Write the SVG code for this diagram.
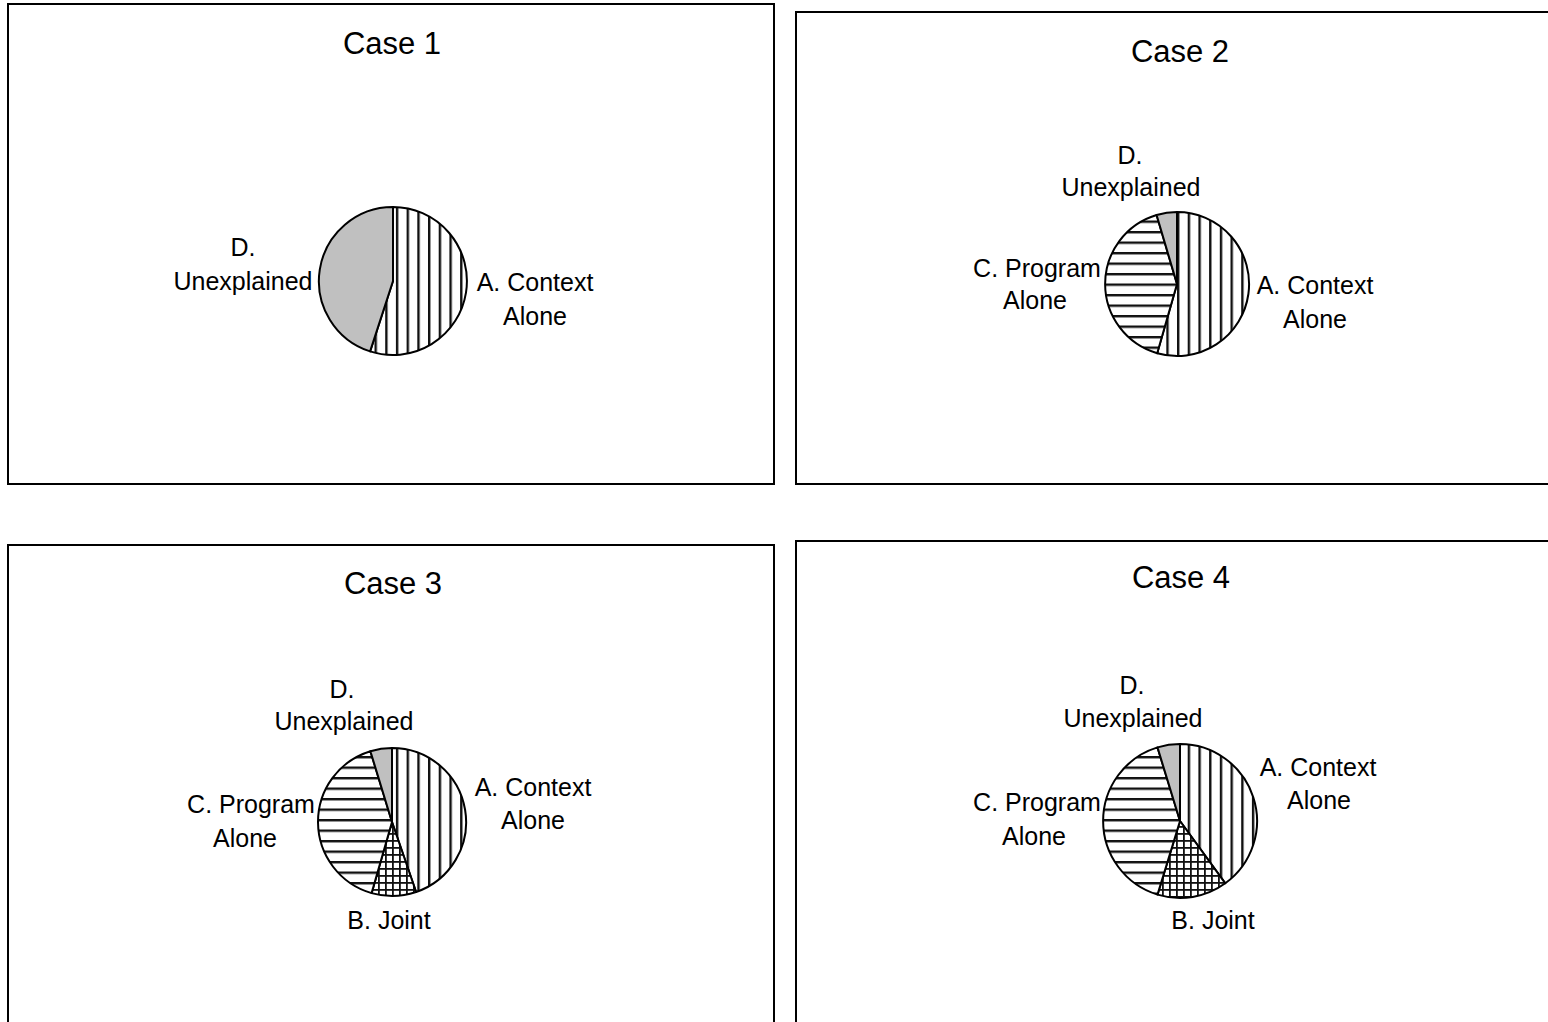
<svg xmlns="http://www.w3.org/2000/svg" width="1548" height="1022" viewBox="0 0 1548 1022">
<style>
.panel{fill:#fff;stroke:#000;stroke-width:2}
.t{font-family:"Liberation Sans",Arial,sans-serif;font-size:25px;fill:#000;text-anchor:middle}
.title{font-family:"Liberation Sans",Arial,sans-serif;font-size:31px;fill:#000;text-anchor:middle}
.s{stroke:#000;stroke-width:2;stroke-linejoin:round}
.a{fill:url(#vert)}
.b{fill:url(#cross)}
.c{fill:url(#horiz)}
.d{fill:#c0c0c0}
</style>
<defs>
<pattern id="vert" patternUnits="userSpaceOnUse" width="10.7" height="10">
<rect width="10.7" height="10" fill="#fff"/>
<rect x="0" width="2.4" height="10" fill="#111"/>
</pattern>
<pattern id="horiz" patternUnits="userSpaceOnUse" width="10" height="10.5">
<rect width="10" height="10.5" fill="#fff"/>
<rect y="0" width="10" height="2.4" fill="#111"/>
</pattern>
<pattern id="cross" patternUnits="userSpaceOnUse" width="7" height="7">
<rect width="7" height="7" fill="#fff"/>
<rect x="0" width="1.8" height="7" fill="#111"/>
<rect y="0" width="7" height="1.8" fill="#111"/>
</pattern>
</defs>
<rect width="1548" height="1022" fill="#fff"/>

<g id="case1">
<rect class="panel" x="8" y="4" width="766" height="480"/>
<text class="title" x="392" y="54">Case 1</text>
<path class="s a" d="M393,281 L393,207 A74,74 0 1 1 370.1,351.4 Z"/>
<path class="s d" d="M393,281 L370.1,351.4 A74,74 0 0 1 393,207 Z"/>
<text class="t" x="243" y="256">D.</text>
<text class="t" x="243" y="290">Unexplained</text>
<text class="t" x="535" y="291">A. Context</text>
<text class="t" x="535" y="325">Alone</text>
</g>

<g id="case2">
<rect class="panel" x="796" y="12" width="800" height="472"/>
<text class="title" x="1180" y="62">Case 2</text>
<path class="s a" d="M1177,284 L1177,212 A72,72 0 1 1 1157.2,353.2 Z"/>
<path class="s c" d="M1177,284 L1157.2,353.2 A72,72 0 0 1 1156.6,215 Z"/>
<path class="s d" d="M1177,284 L1156.6,215 A72,72 0 0 1 1177,212 Z"/>
<text class="t" x="1130" y="164">D.</text>
<text class="t" x="1131" y="196">Unexplained</text>
<text class="t" x="1037" y="277">C. Program</text>
<text class="t" x="1035" y="309">Alone</text>
<text class="t" x="1315" y="294">A. Context</text>
<text class="t" x="1315" y="328">Alone</text>
</g>

<g id="case3">
<rect class="panel" x="8" y="545" width="766" height="600"/>
<text class="title" x="393" y="594">Case 3</text>
<path class="s a" d="M392,822 L392,748 A74,74 0 0 1 416.1,892 Z"/>
<path class="s b" d="M392,822 L416.1,892 A74,74 0 0 1 371.6,893.1 Z"/>
<path class="s c" d="M392,822 L371.6,893.1 A74,74 0 0 1 370.4,751.2 Z"/>
<path class="s d" d="M392,822 L370.4,751.2 A74,74 0 0 1 392,748 Z"/>
<text class="t" x="342" y="698">D.</text>
<text class="t" x="344" y="730">Unexplained</text>
<text class="t" x="251" y="813">C. Program</text>
<text class="t" x="245" y="847">Alone</text>
<text class="t" x="533" y="796">A. Context</text>
<text class="t" x="533" y="829">Alone</text>
<text class="t" x="389" y="929">B. Joint</text>
</g>

<g id="case4">
<rect class="panel" x="796" y="541" width="800" height="600"/>
<text class="title" x="1181" y="588">Case 4</text>
<path class="s a" d="M1180,821 L1180,744 A77,77 0 0 1 1225.3,883.3 Z"/>
<path class="s b" d="M1180,821 L1225.3,883.3 A77,77 0 0 1 1157.5,894.6 Z"/>
<path class="s c" d="M1180,821 L1157.5,894.6 A77,77 0 0 1 1157.5,747.4 Z"/>
<path class="s d" d="M1180,821 L1157.5,747.4 A77,77 0 0 1 1180,744 Z"/>
<text class="t" x="1132" y="694">D.</text>
<text class="t" x="1133" y="727">Unexplained</text>
<text class="t" x="1037" y="811">C. Program</text>
<text class="t" x="1034" y="845">Alone</text>
<text class="t" x="1318" y="776">A. Context</text>
<text class="t" x="1319" y="809">Alone</text>
<text class="t" x="1213" y="929">B. Joint</text>
</g>
<g id="connectors"/>
</svg>
